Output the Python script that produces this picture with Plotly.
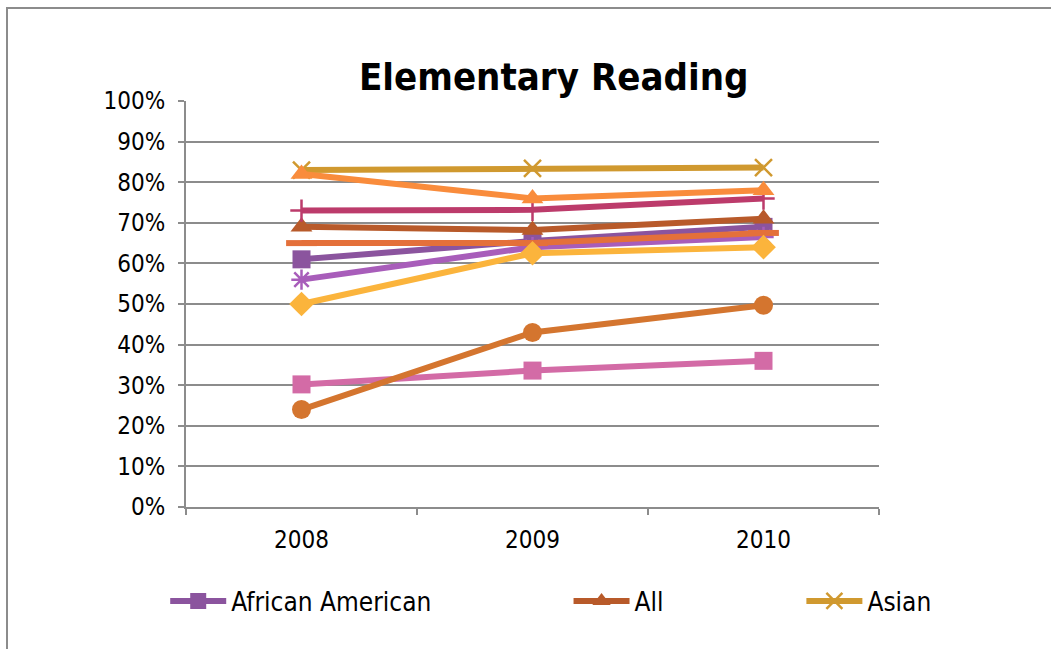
import plotly.graph_objects as go

# School years on the category axis
years = ["2008", "2009", "2010"]

# Percent of students at or above standard, elementary reading
african_american = [61, 65.5, 69]
all_students = [69, 68.2, 71]
asian = [83, 83.4, 83.6]
group_4 = [82, 76, 78]
group_5 = [73, 73.2, 76]
group_6 = [65, 65, 67.5]
group_7 = [56, 64, 66.5]
group_8 = [50, 62.5, 64]
group_9 = [30.2, 33.6, 36]
group_10 = [24, 43, 49.7]

y_ticks = [0, 10, 20, 30, 40, 50, 60, 70, 80, 90, 100]
y_tick_text = ["0%", "10%", "20%", "30%", "40%", "50%", "60%", "70%", "80%", "90%", "100%"]

FONT = "DejaVu Sans Condensed"
GRID = "#8c8c8c"

# (name, values, colour, marker symbol, marker size, legend id or None)
series = [
    ("African American", african_american, "#8B549E", "square", 18, "legend"),
    ("All", all_students, "#B85A2A", "triangle-up", 19, "legend2"),
    ("Asian", asian, "#D0992F", "x-thin-open", 17, "legend3"),
    ("Group 7", group_7, "#A85DBA", "asterisk-open", 17, None),
    ("Group 6", group_6, "#E4703A", "line-ew-open", 22, None),
    ("Group 5", group_5, "#BC3B6B", "cross-thin-open", 16, None),
    ("Group 4", group_4, "#F98C3C", "triangle-up", 19, None),
    ("Group 9", group_9, "#D36BA6", "square", 18, None),
    ("Group 10", group_10, "#D4752F", "circle", 19, None),
    ("Group 8", group_8, "#FBB43C", "diamond", 19, None),
]

fig = go.Figure()
for name, vals, color, symbol, size, leg in series:
    open_marker = symbol.endswith("-open")
    marker = dict(symbol=symbol, size=size, color=color,
                  line=dict(color=color, width=2.5 if open_marker else 0))
    if symbol == "line-ew-open":
        marker["line"]["width"] = 6
    fig.add_trace(go.Scatter(
        x=years, y=vals, name=name, mode="lines+markers",
        line=dict(color=color, width=6),
        marker=marker,
        showlegend=leg is not None,
        legend=leg if leg else "legend",
    ))

legend_common = dict(
    orientation="h", yanchor="middle", xanchor="left",
    font=dict(family=FONT, size=26, color="#000000"),
    bgcolor="rgba(0,0,0,0)", itemwidth=56,
)

fig.update_layout(
    width=1051, height=649,
    margin=dict(l=186, r=172, t=101, b=142),
    paper_bgcolor="white", plot_bgcolor="white",
    font=dict(family=FONT, size=24, color="#000000"),
    legend=dict(x=-0.03, y=-0.2315, **legend_common),
    legend2=dict(x=0.552, y=-0.2315, **legend_common),
    legend3=dict(x=0.888, y=-0.2315, **legend_common),
    xaxis=dict(
        type="category", range=[-0.5, 2.5], tickson="boundaries",
        ticks="outside", ticklen=6, tickcolor=GRID, tickwidth=1.5,
        showline=True, linecolor=GRID, linewidth=2,
        showgrid=False, tickfont=dict(family=FONT, size=24),
        ticklabelstandoff=10,
    ),
    yaxis=dict(
        range=[0, 100], tickvals=y_ticks, ticktext=y_tick_text,
        ticks="outside", ticklen=6, tickcolor=GRID, tickwidth=1.5,
        showline=True, linecolor=GRID, linewidth=2,
        showgrid=True, gridcolor=GRID, gridwidth=2,
        zeroline=False, tickfont=dict(family=FONT, size=24),
        ticklabelstandoff=8,
    ),
    annotations=[dict(
        text="<b>Elementary Reading</b>", x=0.5296, y=1.059,
        xref="paper", yref="paper", xanchor="center", yanchor="middle",
        showarrow=False, font=dict(family=FONT, size=38, color="#000000"),
    )],
    shapes=[dict(
        type="rect", xref="paper", yref="paper",
        x0=-0.2583, x1=1.5, y0=-0.5, y1=1.229,
        line=dict(color="#8c8c8c", width=2), fillcolor="rgba(0,0,0,0)",
        layer="below",
    )],
)

fig.write_html("out.html")
